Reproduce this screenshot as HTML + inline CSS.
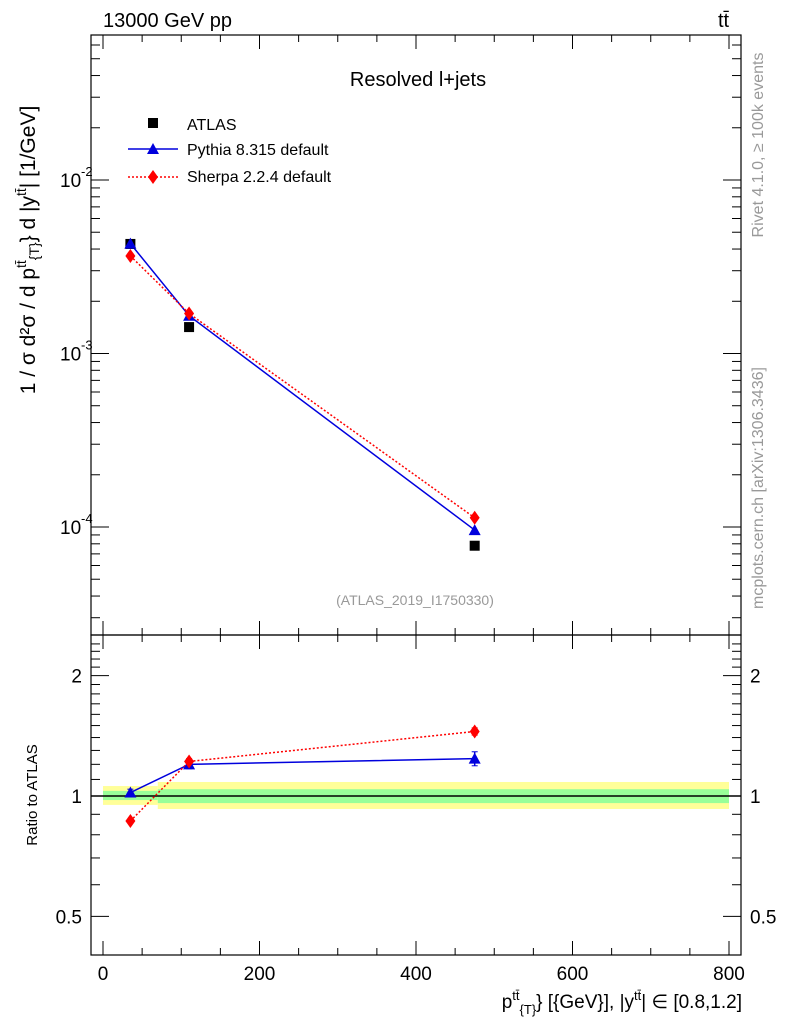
<!DOCTYPE html>
<html><head><meta charset="utf-8"><style>
body{margin:0;background:#fff;}
svg text{font-family:"Liberation Sans",sans-serif;}
</style></head><body>
<svg id="c" width="786" height="1024" xmlns="http://www.w3.org/2000/svg"></svg>
<script>
const xCats=[35,110,475];
const atlas=[4.28e-3,1.42e-3,7.8e-5];
const pythia=[4.3e-3,1.65e-3,9.6e-5];
const sherpa=[3.65e-3,1.7e-3,1.13e-4];
const pythiaRatio=[1.02,1.20,1.24];
const pythiaRatioErr=[0.02,0.03,0.05];
const sherpaRatio=[0.866,1.22,1.45];
const sherpaRatioErr=[0.01,0.02,0.03];
const bandEdges=[0,70,800];
const band1lo=[0.95,0.928],band1hi=[1.059,1.084];
const band2lo=[0.977,0.96],band2hi=[1.03,1.04];
const xTicks=[0,200,400,600,800];
const NS="http://www.w3.org/2000/svg";
const svg=document.getElementById('c');
function el(t,a,txt){const e=document.createElementNS(NS,t);for(const k in a)e.setAttribute(k,a[k]);if(txt!==undefined)e.textContent=txt;svg.appendChild(e);return e;}
const L=91,R=741,T=35,M=635,B=955;
const X=v=>103+v*(729-103)/800;
const Y=v=>180-(Math.log10(v)+2)*173.5;
const YR=v=>796-Math.log10(v)*400;
for(let i=0;i<2;i++){
 let e=el('rect',{x:X(bandEdges[i]),y:YR(band1hi[i]),width:X(bandEdges[i+1])-X(bandEdges[i]),height:YR(band1lo[i])-YR(band1hi[i]),fill:'#ffff99'});
 
 e=el('rect',{x:X(bandEdges[i]),y:YR(band2hi[i]),width:X(bandEdges[i+1])-X(bandEdges[i]),height:YR(band2lo[i])-YR(band2hi[i]),fill:'#99ff99'});
 
}
let ln=el('line',{x1:L,x2:R,y1:YR(1),y2:YR(1),stroke:'#000','stroke-width':1.5});

let f=el('rect',{x:L,y:T,width:R-L,height:M-T,fill:'none',stroke:'#000','stroke-width':1.2});

f=el('rect',{x:L,y:M,width:R-L,height:B-M,fill:'none',stroke:'#000','stroke-width':1.2});

for(let v=0;v<=800;v+=50){const big=v%200==0,h=big?14:7;
 [[M,-1],[B,-1],[T,1],[M,1]].forEach(([y,d])=>el('line',{x1:X(v),x2:X(v),y1:y,y2:y+d*h,stroke:'#000'}));}
xTicks.forEach(v=>{const t=el('text',{x:X(v),y:980,'font-size':19,'text-anchor':'middle'},v);});
for(let e=-5;e<=-1;e++)for(let m=1;m<10;m++){const v=m*Math.pow(10,e),y=Y(v);if(y<T||y>M)continue;const h=m==1?18:9;
 el('line',{x1:L,x2:L+h,y1:y,y2:y,stroke:'#000'});el('line',{x1:R,x2:R-h,y1:y,y2:y,stroke:'#000'});}
[-2,-3,-4].forEach(e=>{const t=el('text',{x:60,y:Y(Math.pow(10,e))+7,'font-size':19},'10');
 el('text',{x:81,y:Y(Math.pow(10,e))-4,'font-size':13},String(e));});
for(let v=0.4;v<=2.5;v+=0.1){const y=YR(v);if(y<M||y>B)continue;const big=[0.5,1,2].some(b=>Math.abs(b-v)<1e-6);const h=big?18:9;
 el('line',{x1:L,x2:L+h,y1:y,y2:y,stroke:'#000'});el('line',{x1:R,x2:R-h,y1:y,y2:y,stroke:'#000'});}
[[2,'2'],[1,'1'],[0.5,'0.5']].forEach(([v,s])=>{let t=el('text',{x:82,y:YR(v)+7,'font-size':19,'text-anchor':'end'},s);
 t=el('text',{x:750,y:YR(v)+7,'font-size':19},s);});
function poly(xs,ys,col,dash,name){const p=el('polyline',{points:xs.map((x,i)=>X(x)+','+ys[i]).join(' '),fill:'none',stroke:col,'stroke-width':1.5,'stroke-dasharray':dash||''});}
function tri(x,y,col){const p=el('path',{d:`M${x},${y-6}L${x+6},${y+5}L${x-6},${y+5}Z`,fill:col});}
function dia(x,y,col){const p=el('path',{d:`M${x},${y-7}L${x+5},${y}L${x},${y+7}L${x-5},${y}Z`,fill:col});}
poly(xCats,pythia.map(Y),'#0000dd','','pythia-line');
poly(xCats,sherpa.map(Y),'#ff0000','2,2','sherpa-line');
xCats.forEach((x,i)=>{const r=el('rect',{x:X(x)-5,y:Y(atlas[i])-5,width:10,height:10,fill:'#000'});
 tri(X(x),Y(pythia[i]),'#0000dd');dia(X(x),Y(sherpa[i]),'#ff0000');});
poly(xCats,pythiaRatio.map(YR),'#0000dd','','pythia-ratio-line');
poly(xCats,sherpaRatio.map(YR),'#ff0000','2,2','sherpa-ratio-line');
xCats.forEach((x,i)=>{
 [[pythiaRatio,pythiaRatioErr,'#0000dd'],[sherpaRatio,sherpaRatioErr,'#ff0000']].forEach(([r,e,c])=>{
  const y1=YR(r[i]+e[i]),y2=YR(r[i]-e[i]);el('line',{x1:X(x),x2:X(x),y1,y2,stroke:c,'stroke-width':1.5});
  el('line',{x1:X(x)-3,x2:X(x)+3,y1,y2:y1,stroke:c});el('line',{x1:X(x)-3,x2:X(x)+3,y1:y2,y2,stroke:c});});
 tri(X(x),YR(pythiaRatio[i]),'#0000dd');dia(X(x),YR(sherpaRatio[i]),'#ff0000');});
</script>
<svg width="786" height="1024" style="position:absolute;left:0;top:0" xmlns="http://www.w3.org/2000/svg">
<text x="103" y="27" font-size="20">13000 GeV pp</text>
<text x="718" y="27" font-size="20">tt̄</text>
<text x="418" y="86" font-size="20" text-anchor="middle">Resolved l+jets</text>
<rect x="148" y="118" width="10" height="10" fill="#000"/>
<text x="187" y="130" font-size="16">ATLAS</text>
<line x1="128" x2="178" y1="149" y2="149" stroke="#0000dd" stroke-width="1.5"/>
<path d="M153,143L159,154L147,154Z" fill="#0000dd"/>
<text x="187" y="155" font-size="16">Pythia 8.315 default</text>
<line x1="128" x2="178" y1="177" y2="177" stroke="#ff0000" stroke-width="1.5" stroke-dasharray="2,2"/>
<path d="M153,170L158,177L153,184L148,177Z" fill="#ff0000"/>
<text x="187" y="182" font-size="16">Sherpa 2.2.4 default</text>
<text x="415" y="605" font-size="14" fill="#999" text-anchor="middle">(ATLAS_2019_I1750330)</text>
<text transform="translate(35,250) rotate(-90)" font-size="21" text-anchor="middle">1 / σ d²σ / d p<tspan font-size="14" dy="-9">tt̄</tspan><tspan font-size="14" dy="13">{T}</tspan><tspan dy="-4">} d |y</tspan><tspan font-size="14" dy="-9">tt̄</tspan><tspan dy="9">| [1/GeV]</tspan></text>
<text transform="translate(37,795) rotate(-90)" font-size="15" text-anchor="middle">Ratio to ATLAS</text>
<text x="742" y="1008" font-size="19" text-anchor="end">p<tspan font-size="13" dy="-8">tt̄</tspan><tspan font-size="13" dy="14">{T}</tspan><tspan dy="-6">} [{GeV}], |y</tspan><tspan font-size="13" dy="-8">tt̄</tspan><tspan dy="8">| ∈ [0.8,1.2]</tspan></text>
<text transform="translate(763,145) rotate(-90)" font-size="16" fill="#999" text-anchor="middle">Rivet 4.1.0, ≥ 100k events</text>
<text transform="translate(763,488) rotate(-90)" font-size="16" fill="#999" text-anchor="middle">mcplots.cern.ch [arXiv:1306.3436]</text>
</svg>
</body></html>
